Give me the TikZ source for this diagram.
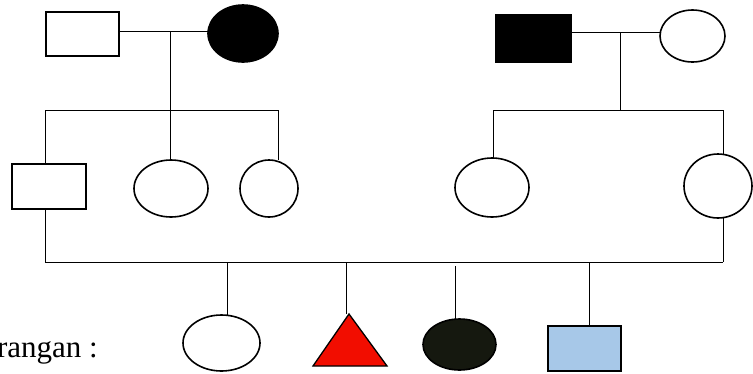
\documentclass[tikz,border=0pt]{standalone}
\usepackage{fontspec}
\setmainfont{Liberation Serif}
\usetikzlibrary{shapes.geometric}
\definecolor{affdark}{HTML}{15180F}
\definecolor{carrierblue}{HTML}{A7C8E8}
\definecolor{affred}{HTML}{F20D00}
\begin{document}
\begin{tikzpicture}[x=1pt,y=-1pt,
  person/.style={draw=black, line width=1.6pt, inner sep=0pt, outer sep=0pt},
  male/.style={person, rectangle, minimum width=#1},
  female/.style={person, ellipse, minimum width=#1},
  link/.style={draw=black, line width=1pt}]
\useasboundingbox (0,0) rectangle (753,373);
\clip (0,0) rectangle (753,373);

% generation I
\node[male=73pt, minimum height=44pt] (gf1) at (82.5,34) {};
\node[female=70pt, minimum height=57pt, fill=black] (gm1) at (243,33.5) {};
\node[male=77pt, minimum height=49pt, fill=black, draw=none] (gf2) at (533.5,38.5) {};
\node[female=65pt, minimum height=52pt] (gm2) at (692.5,36) {};

% generation II
\node[male=74pt, minimum height=45pt] (p1) at (49,186.5) {};
\node[female=74pt, minimum height=57pt] (a2) at (171,188.5) {};
\node[female=58pt, minimum height=57pt] (a3) at (269,188.5) {};
\node[female=74pt, minimum height=59pt] (b1) at (492,187.5) {};
\node[female=68pt, minimum height=64pt] (m1) at (718,186) {};

% generation III
\node[female=77pt, minimum height=56pt] (c1) at (221.5,343) {};
\coordinate (c2) at (346,314);
\coordinate (c2l) at (313,366);
\coordinate (c2r) at (387,366);
\filldraw[fill=affred, draw=black, line width=1.3pt, line join=miter] (349,314) -- (c2r) -- (c2l) -- cycle;
\node[female=73pt, minimum height=51pt, fill=affdark] (c3) at (459.5,344.5) {};
\node[male=73pt, minimum height=45pt, fill=carrierblue] (c4) at (584.5,348.5) {};

% marriage and sibship lines, left family
\coordinate (mA) at (170,31);
\coordinate (sA) at (170,110);
\coordinate (sAl) at (45,110);
\coordinate (sAr) at (278,110);
\path[link] (gf1.east |- mA) -- (gm1.west |- mA);
\path[link] (mA) -- (sA);
\path[link] (sAl) -- (sAr);
\path[link] (sAl) -- (sAl |- p1.north);
\path[link] (sA) -- (sA |- a2.north);
\path[link] (sAr) -- (sAr |- a3.north);

% marriage and sibship lines, right family
\coordinate (mB) at (620,32);
\coordinate (sB) at (620,110);
\coordinate (sBl) at (493,110);
\coordinate (sBr) at (723,110);
\path[link] (gf2.east |- mB) -- (gm2.west |- mB);
\path[link] (mB) -- (sB);
\path[link] (sBl) -- (sBr);
\path[link] (sBl) -- (sBl |- b1.north);
\path[link] (sBr) -- (sBr |- m1.north);

% marriage of p1 and m1 with their children
\coordinate (cl) at (45,262);
\coordinate (cr) at (723,262);
\path[link] (p1.south -| cl) -- (cl);
\path[link] (m1.south -| cr) -- (cr);
\path[link] (cl) -- (cr);
\coordinate (d1) at (227,262);
\coordinate (d2) at (346,262);
\coordinate (d3) at (455,266);
\coordinate (d4) at (589,262);
\path[link] (d1) -- (d1 |- c1.north);
\path[link] (d2) -- (c2);
\path[link] (d3) -- (d3 |- c3.north);
\path[link] (d4) -- (d4 |- c4.north);

% legend heading
\node[anchor=base east, inner sep=0pt, font=\fontsize{31}{35}\selectfont] (legend) at (98,357) {Keterangan :};
\end{tikzpicture}
\end{document}
